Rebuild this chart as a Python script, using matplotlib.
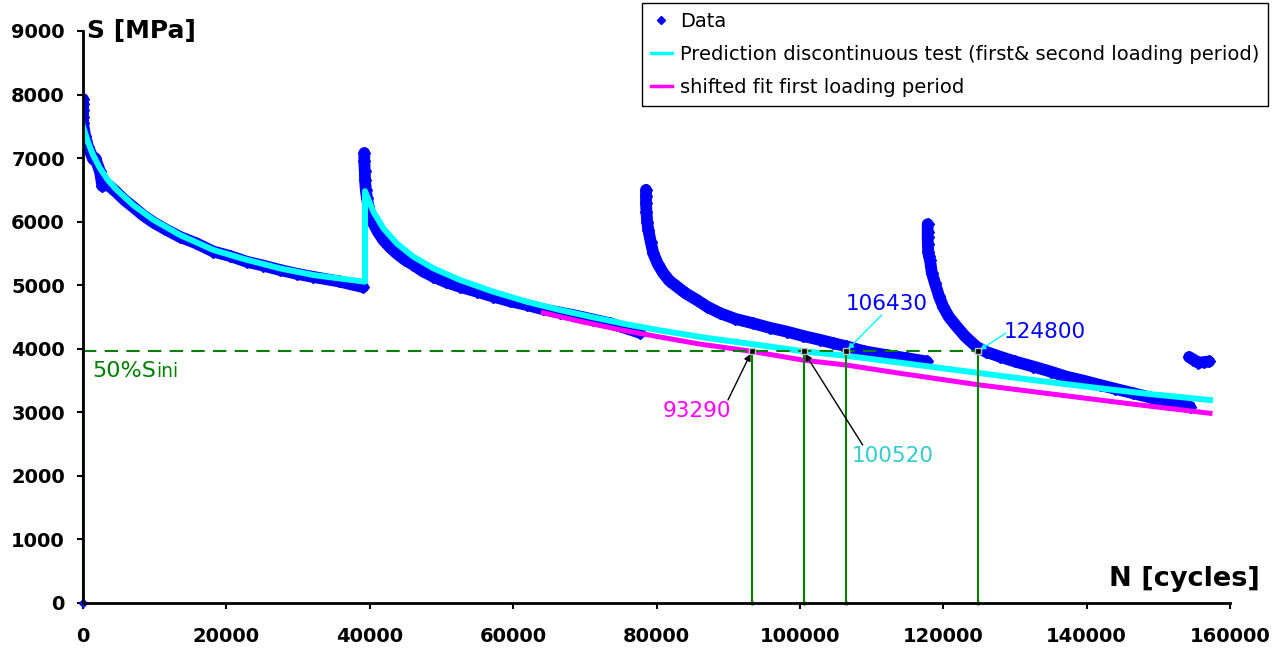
import numpy as np
import matplotlib.pyplot as plt
from matplotlib.lines import Line2D

# measured data, one list per loading period (cycles, MPa)
n1 = [0, 0, 0, 0, 0, 300, 700, 1440, 1700, 2371, 2700, 3500, 4700, 5800, 7020, 8400, 9810, 11500,
      13530, 15800, 18180, 20500, 22830, 25100, 27480, 29800, 32130, 35700, 39060]
s1 = [7930, 7850, 7750, 7650, 7550, 7350, 7180, 6980, 7000, 6790, 6560, 6580, 6460, 6340, 6230, 6100,
      5990, 5880, 5760, 5660, 5530, 5460, 5370, 5310, 5240, 5180, 5130, 5060, 4970]

n2 = [39240, 39240, 39300, 39350, 39450, 39600, 39800, 40100, 40500, 41200, 41900, 42800, 43760, 44900,
      46080, 47400, 48870, 50600, 52590, 54900, 57240, 59500, 61890, 64200, 66540, 68800, 71180, 73500,
      75840, 77700]
s2 = [7080, 6950, 6800, 6650, 6500, 6380, 6250, 6100, 5975, 5830, 5710, 5600, 5500, 5400, 5320, 5220,
      5135, 5050, 4975, 4900, 4820, 4750, 4690, 4620, 4570, 4520, 4460, 4400, 4320, 4250]

n3 = [78540, 78540, 78540, 78600, 78700, 78860, 79200, 79560, 80200, 80950, 81800, 82820, 84100, 85600,
      87100, 88860, 91000, 93500, 95800, 98160, 100500, 102800, 104600, 106430, 109000, 112100, 115000,
      117700]
s3 = [6500, 6400, 6290, 6150, 6000, 5870, 5680, 5500, 5330, 5190, 5070, 4980, 4870, 4770, 4660, 4560,
      4470, 4400, 4330, 4270, 4200, 4140, 4090, 4040, 3960, 3900, 3850, 3800]

n4 = [117830, 117830, 117830, 117850, 117900, 118000, 118150, 118400, 118850, 119400, 120000, 120800,
      121870, 123100, 124660, 126000, 127920, 130000, 132570, 135000, 137220, 139500, 141870, 144000,
      146510, 149000, 151170, 153000, 154420]
s4 = [5960, 5840, 5760, 5650, 5530, 5460, 5400, 5200, 5030, 4830, 4660, 4500, 4350, 4190, 4030, 3950,
      3875, 3800, 3720, 3640, 3560, 3500, 3430, 3370, 3300, 3230, 3170, 3120, 3090]

n5 = [154300, 154900, 155600, 156400, 157100]
s5 = [3870, 3830, 3780, 3790, 3800]

# prediction discontinuous test (first & second loading period)
pred_n = [0, 700, 1400, 2371, 3500, 4700, 7020, 9810, 13530, 18180, 22830, 27480, 32130, 39340,
          39340, 40500, 41900, 43760, 46080, 48870, 52590, 57240, 61890, 66540, 71180, 75840, 80490,
          87000, 93290, 100520, 106430, 113970, 124660, 132000, 141870, 149000, 157210]
pred_s = [7500, 7250, 7050, 6840, 6650, 6500, 6260, 6030, 5790, 5555, 5400, 5265, 5160, 5055,
          6480, 6157, 5895, 5659, 5449, 5266, 5082, 4898, 4741, 4610, 4495, 4385, 4290,
          4170, 4075, 3960, 3890, 3781, 3624, 3515, 3378, 3285, 3194]

# shifted fit first loading period
shift_n = [64210, 69000, 74900, 80000, 86000, 93290, 100520, 106430, 113970, 124800, 135000, 146000, 157210]
shift_s = [4567, 4440, 4300, 4195, 4075, 3960, 3820, 3745, 3614, 3435, 3290, 3135, 2985]

s_half = 3960
n_cross = [93290, 100520, 106430, 124800]
cross_labels = ["93290", "100520", "106430", "124800"]

fig = plt.figure(figsize=(12.81, 6.53), dpi=100)
ax = fig.add_axes([83/1281, 50/653, 1147/1281, 572/653])

blue = "#0000FF"
for n, s in [(n1, s1), (n2, s2), (n3, s3), (n4, s4), (n5, s5)]:
    ax.plot(n, s, color=blue, lw=8.5, marker="D", ms=6.5, solid_capstyle="round")
ax.plot([0], [0], ls="none", marker="D", ms=4, color=blue, clip_on=False)

ax.plot(pred_n, pred_s, color="#00FFFF", lw=4.3, solid_joinstyle="round")
ax.plot(shift_n, shift_s, color="#FF00FF", lw=3.6)

# 50% S_ini line and crossing verticals
green = "#008000"
ax.plot([0, n_cross[-1]], [s_half, s_half], color=green, lw=1.5, dashes=(6.4, 4))
for n in [0] + n_cross:
    ax.plot([n, n], [0, s_half], color=green, lw=1.5, marker="o", ms=2, markevery=[0], clip_on=False)
ax.plot(n_cross, [s_half] * 4, ls="none", marker="s", ms=5, mfc="black", mec="#c0c0c0", mew=1, zorder=5)

t50 = ax.text(1255, 3556, "50%S", color=green, fontsize=16, va="baseline", ha="left")
ax.annotate("ini", xy=(1, 0), xycoords=t50, color=green, fontsize=13.5, va="bottom", ha="left")

# labels with arrows
arr_k = dict(arrowstyle="-|>", color="black", lw=1, mutation_scale=10, shrinkA=0, shrinkB=2)
arr_c = dict(arrowstyle="-|>", color="#00FFFF", lw=1, mutation_scale=8, shrinkA=0, shrinkB=2)
ax.annotate("", xy=(n_cross[0], s_half), xytext=(89970, 3194), arrowprops=arr_k)
ax.text(85650, 3021, cross_labels[0], color="#FF00FF", fontsize=15.5, ha="center", va="center")
ax.annotate("", xy=(n_cross[1], s_half), xytext=(108760, 2486), arrowprops=arr_k)
ax.text(112990, 2313, cross_labels[1], color="#33CCCC", fontsize=15.5, ha="center", va="center")
ax.annotate("", xy=(n_cross[2], s_half), xytext=(111410, 4532), arrowprops=arr_c)
ax.text(112150, 4705, cross_labels[2], color=blue, fontsize=15.5, ha="center", va="center")
ax.annotate("", xy=(n_cross[3], s_half), xytext=(128750, 4248), arrowprops=arr_c)
ax.text(134190, 4264, cross_labels[3], color=blue, fontsize=15.5, ha="center", va="center")

ax.set_xlim(0, 160000)
ax.set_ylim(0, 9000)
ax.set_xticks(np.arange(0, 160001, 20000))
ax.set_yticks(np.arange(0, 9001, 1000))
for sp in ["top", "right"]:
    ax.spines[sp].set_visible(False)
for sp in ["left", "bottom"]:
    ax.spines[sp].set_linewidth(2)
ax.tick_params(axis="both", direction="out", length=4, width=1.5, labelsize=14)
ax.tick_params(axis="x", pad=13)
ax.tick_params(axis="y", pad=9)
for lab in ax.get_xticklabels() + ax.get_yticklabels():
    lab.set_fontweight("bold")

ax.text(600, 9000, "S [MPa]", fontsize=18, fontweight="bold", ha="left", va="center")
ax.text(164200, 385, "N [cycles]", fontsize=19.5, fontweight="bold", ha="right", va="center",
        clip_on=False)

handles = [
    Line2D([], [], ls="none", marker="D", ms=4, color=blue),
    Line2D([], [], color="#00FFFF", lw=2.5, marker="s", ms=2),
    Line2D([], [], color="#FF00FF", lw=2.5, marker="s", ms=2),
]
labels = ["Data", "Prediction discontinuous test (first& second loading period)",
          "shifted fit first loading period"]
leg = fig.legend(handles, labels, loc="upper right", bbox_to_anchor=(1268/1281, 1 - 3/653),
                 fontsize=14, frameon=True, fancybox=False, edgecolor="black", framealpha=1,
                 handlelength=1.1, handletextpad=0.4, labelspacing=0.72, borderpad=0.45, borderaxespad=0)
leg.get_frame().set_linewidth(1)

fig.savefig("out.png", dpi=100)
